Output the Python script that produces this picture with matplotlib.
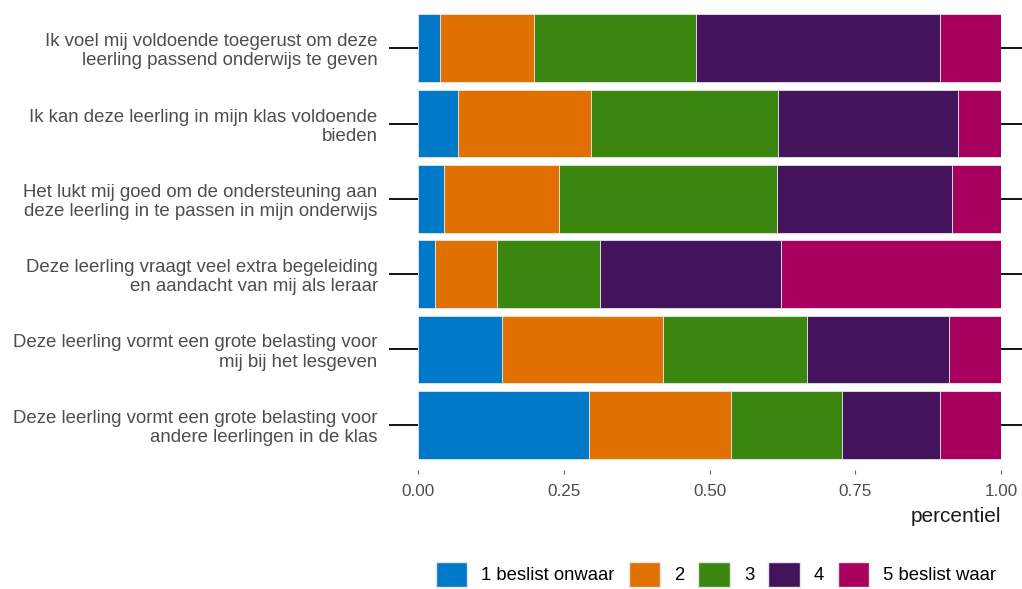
import numpy as np
import matplotlib.pyplot as plt
from matplotlib.patches import Patch

plt.rcParams['font.family'] = ['Liberation Sans', 'DejaVu Sans']

stellingen = [
    "Ik voel mij voldoende toegerust om deze\nleerling passend onderwijs te geven",
    "Ik kan deze leerling in mijn klas voldoende\nbieden",
    "Het lukt mij goed om de ondersteuning aan\ndeze leerling in te passen in mijn onderwijs",
    "Deze leerling vraagt veel extra begeleiding\nen aandacht van mij als leraar",
    "Deze leerling vormt een grote belasting voor\nmij bij het lesgeven",
    "Deze leerling vormt een grote belasting voor\nandere leerlingen in de klas",
]
antwoorden = ["1 beslist onwaar", "2", "3", "4", "5 beslist waar"]

# aandeel per antwoordcategorie (1 t/m 5), per stelling
p1 = [0.037, 0.068, 0.045, 0.029, 0.144, 0.293]
p2 = [0.162, 0.228, 0.196, 0.107, 0.277, 0.244]
p3 = [0.278, 0.322, 0.374, 0.176, 0.246, 0.191]
p4 = [0.418, 0.309, 0.301, 0.311, 0.243, 0.167]
p5 = [0.105, 0.073, 0.084, 0.377, 0.090, 0.105]

kleuren = ['#0079C8', '#E07000', '#3A860E', '#43145B', '#A8005E']
xticks = [0.0, 0.25, 0.5, 0.75, 1.0]

fig = plt.figure(figsize=(10.22, 5.89), dpi=100)
ax = fig.add_axes([418/1022, 1-470/589, 583/1022, 467/589])

y = np.arange(len(stellingen))
links = np.zeros(len(stellingen))
for vals, kl, lab in zip([p1, p2, p3, p4, p5], kleuren, antwoorden):
    ax.barh(y, vals, left=links, height=0.9, color=kl, edgecolor='#e6e6e6',
            linewidth=0.6, label=lab)
    links = links + np.array(vals)

ax.set_ylim(len(stellingen) - 0.4, -0.6)
ax.set_xlim(0, 1.0)
ax.set_yticks(y)
ax.set_yticklabels(stellingen, fontsize=13.4, color='#4D4D4D', linespacing=1.17)
ax.set_xticks(xticks)
ax.set_xticklabels(['%.2f' % v for v in xticks], fontsize=12.3, color='#4D4D4D')
ax.tick_params(axis='y', length=21, width=1.3, color='black', pad=8,
               right=True)
ax.tick_params(axis='x', length=3, width=0.8, color='#666666', pad=7)
for s in ax.spines.values():
    s.set_visible(False)

ax.set_xlabel('percentiel', fontsize=15, loc='right', labelpad=6, color='#1a1a1a')

handles = [Patch(facecolor=k, edgecolor='#e6e6e6', label=l)
           for k, l in zip(kleuren, antwoorden)]
fig.legend(handles=handles, loc='upper center', bbox_to_anchor=(716/1022, 1-545/589),
           ncol=5, frameon=False, fontsize=13.3, handlelength=1.72, handleheight=1.72,
           columnspacing=0.75, handletextpad=0.75)

fig.savefig('out.png', dpi=100)
